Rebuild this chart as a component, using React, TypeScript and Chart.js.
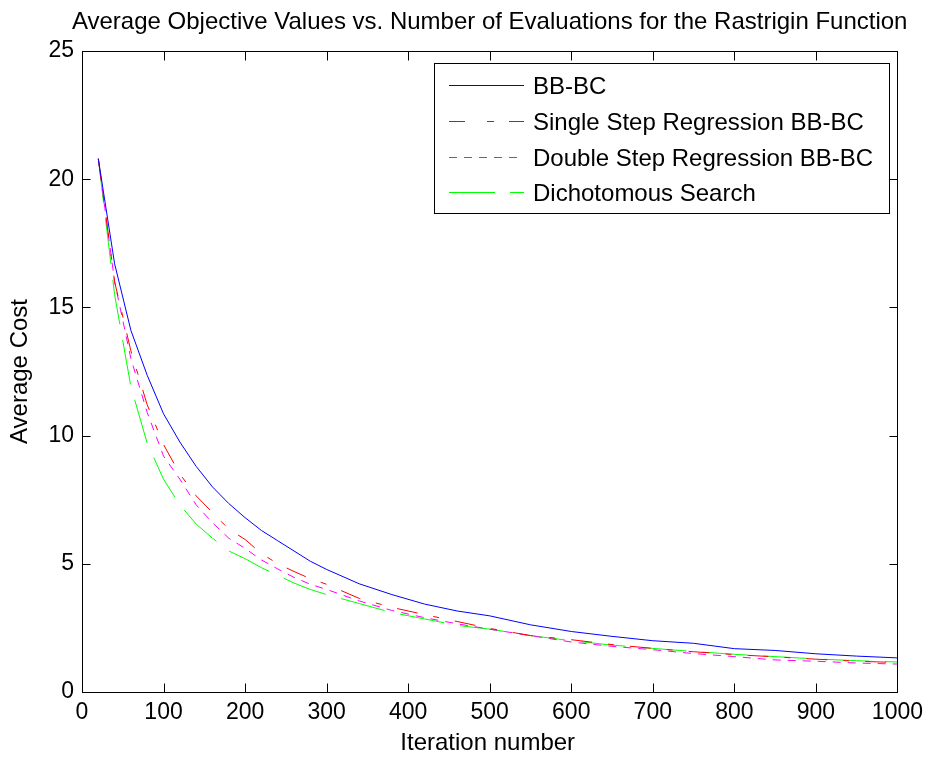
import React, { useEffect, useRef } from "react";
import { Chart, registerables } from "chart.js";

Chart.register(...registerables);

// ---------- data ----------
const iterations = [20, 40, 60, 80, 100, 120, 140, 160, 180, 200, 220, 240, 260, 280, 300, 340, 380, 420, 460, 500, 550, 600, 650, 700, 750, 800, 850, 900, 950, 1000];
const bbbc = [20.8, 16.7, 14.1, 12.35, 10.85, 9.75, 8.8, 8.0, 7.35, 6.8, 6.3, 5.9, 5.5, 5.1, 4.78, 4.22, 3.8, 3.43, 3.16, 2.97, 2.62, 2.36, 2.17, 2.0, 1.9, 1.69, 1.62, 1.49, 1.4, 1.33];
const singleStep = [20.8, 16.0, 13.3, 11.2, 9.65, 8.5, 7.65, 7.0, 6.35, 5.95, 5.4, 5.0, 4.7, 4.42, 4.2, 3.65, 3.3, 3.02, 2.75, 2.48, 2.2, 2.04, 1.85, 1.7, 1.57, 1.46, 1.37, 1.28, 1.2, 1.15];
const doubleStep = [20.8, 16.0, 13.0, 10.9, 9.2, 8.3, 7.3, 6.6, 6.0, 5.6, 5.15, 4.8, 4.47, 4.2, 4.0, 3.55, 3.18, 2.9, 2.66, 2.45, 2.2, 1.95, 1.78, 1.65, 1.5, 1.38, 1.25, 1.2, 1.13, 1.09];
const dichotomous = [20.8, 15.5, 11.9, 9.7, 8.3, 7.3, 6.55, 6.0, 5.5, 5.2, 4.85, 4.55, 4.25, 4.0, 3.8, 3.45, 3.1, 2.85, 2.6, 2.45, 2.2, 2.0, 1.83, 1.7, 1.58, 1.47, 1.38, 1.29, 1.22, 1.17];

const seriesNames = ["BB-BC", "Single Step Regression BB-BC", "Double Step Regression BB-BC", "Dichotomous Search"];
const seriesValues = [bbbc, singleStep, doubleStep, dichotomous];

const titleText = "Average Objective Values vs. Number of Evaluations for the Rastrigin Function";
const xTitleText = "Iteration number";
const yTitleText = "Average Cost";

// ---------- styles ----------
const FONT = '"Liberation Sans", Arial, Helvetica, sans-serif';
const colors = ["#0000ff", "#ff0000", "#ff00ff", "#00ff00"];
const dashes: number[][] = [[], [21, 16, 6, 16], [8, 7], [45, 16]];
const legendDashes: number[][] = [[75, 0], [16, 22, 7, 15], [8, 7], [46, 15]];

const framePlugin = {
  id: "matlabFrame",
  afterDraw(chart: any) {
    const { ctx, chartArea } = chart;
    const { left, top, right, bottom } = chartArea;
    const xs = chart.scales.x;
    const ys = chart.scales.y;
    ctx.save();
    ctx.strokeStyle = "#000";
    ctx.lineWidth = 1;
    ctx.setLineDash([]);
    const L = Math.round(left) + 0.5;
    const R = Math.round(right) + 0.5;
    const T = Math.round(top) + 0.5;
    const B = Math.round(bottom) + 0.5;
    ctx.beginPath();
    xs.ticks.forEach((t: any) => {
      const px = Math.round(xs.getPixelForValue(t.value)) + 0.5;
      ctx.moveTo(px, B);
      ctx.lineTo(px, B - 9);
      ctx.moveTo(px, T);
      ctx.lineTo(px, T + 9);
    });
    ys.ticks.forEach((t: any) => {
      const py = Math.round(ys.getPixelForValue(t.value)) + 0.5;
      ctx.moveTo(L, py);
      ctx.lineTo(L + 8, py);
      ctx.moveTo(R, py);
      ctx.lineTo(R - 8, py);
    });
    ctx.stroke();
    ctx.strokeRect(L, T, R - L, B - T);

    // title
    ctx.fillStyle = "#000";
    ctx.font = `24px ${FONT}`;
    ctx.textAlign = "center";
    ctx.textBaseline = "alphabetic";
    ctx.fillText(titleText, (left + right) / 2, 29);
    // x title
    ctx.fillText(xTitleText, (left + right) / 2 - 2, 750);
    // y title
    ctx.save();
    ctx.translate(27, (top + bottom) / 2);
    ctx.rotate(-Math.PI / 2);
    ctx.fillText(yTitleText, 0, 0);
    ctx.restore();

    // legend
    const bx = 434.5, by = 63.5, bw = 455, bh = 150;
    ctx.fillStyle = "#fff";
    ctx.fillRect(bx, by, bw, bh);
    ctx.strokeStyle = "#000";
    ctx.strokeRect(bx, by, bw, bh);
    const rows = [85, 121, 157, 192];
    const x0 = 449, x1 = 524;
    chart.data.datasets.forEach((ds: any, i: number) => {
      // sample line as 1px-tall colored segments following the dash pattern
      ctx.fillStyle = colors[i];
      const pat = legendDashes[i];
      let x = x0;
      let k = 0;
      while (x < x1) {
        const len = pat[k % pat.length];
        if (k % 2 === 0) {
          ctx.fillRect(x, rows[i], Math.min(len, x1 - x), 1);
        }
        x += len;
        k++;
        if (len === 0 && pat.length === 2 && pat[0] === 0) break;
      }
      ctx.fillStyle = "#000";
      ctx.textAlign = "left";
      ctx.fillText(ds.label, 533, rows[i] + 9);
    });
    ctx.restore();
  },
};

export default function App() {
  const canvasRef = useRef<HTMLCanvasElement | null>(null);

  useEffect(() => {
    if (!canvasRef.current) return;
    const datasets = seriesValues.map((vals, i) => ({
      label: seriesNames[i],
      data: iterations.map((x, j) => ({ x, y: vals[j] })),
      borderColor: colors[i],
      backgroundColor: colors[i],
      borderWidth: 1,
      borderDash: dashes[i],
      pointRadius: 0,
      tension: 0,
      fill: false,
    }));
    const chart = new Chart(canvasRef.current, {
      type: "line",
      data: { datasets },
      options: {
        responsive: false,
        animation: false,
        layout: { padding: { top: 51, right: 32, bottom: 0, left: 0 } },
        plugins: {
          legend: { display: false },
          title: { display: false },
          tooltip: { enabled: false },
        },
        scales: {
          x: {
            type: "linear",
            min: 0,
            max: 1000,
            grid: { display: false, drawTicks: false },
            border: { display: false },
            ticks: {
              stepSize: 100,
              padding: 7,
              color: "#000",
              font: { family: FONT, size: 23 },
              maxRotation: 0,
              callback: (v: any) => String(v),
            },
            afterFit: (scale: any) => {
              scale.height = 67;
            },
          },
          y: {
            type: "linear",
            min: 0,
            max: 25,
            grid: { display: false, drawTicks: false },
            border: { display: false },
            ticks: {
              stepSize: 5,
              padding: 8,
              color: "#000",
              font: { family: FONT, size: 23 },
              callback: (v: any) => String(v),
            },
            afterFit: (scale: any) => {
              scale.width = 82;
            },
          },
        },
      },
      plugins: [framePlugin],
    });
    return () => chart.destroy();
  }, []);

  return (
    <div style={{ position: "fixed", left: 0, top: 0, width: 930, height: 759, background: "#fff" }}>
      <canvas ref={canvasRef} width={930} height={759} style={{ display: "block" }} />
    </div>
  );
}
